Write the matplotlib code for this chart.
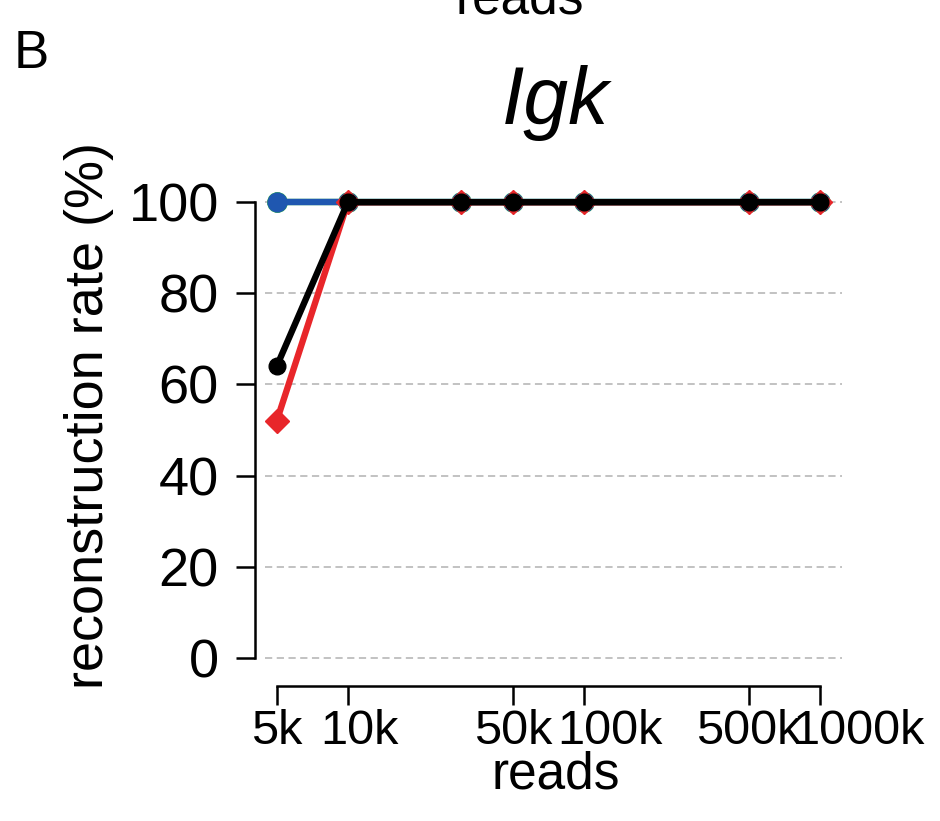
import matplotlib
matplotlib.use("Agg")
import matplotlib.pyplot as plt
from matplotlib.transforms import ScaledTranslation
import numpy as np

plt.rcParams['font.family'] = ['Liberation Sans', 'DejaVu Sans']

reads = [5000, 10000, 30000, 50000, 100000, 500000, 1000000]
tick_vals = [5000, 10000, 50000, 100000, 500000, 1000000]
tick_labels = ["5k", "10k", "50k", "100k", "500k", "1000k"]
green_vals = [100, 100, 100, 100, 100, 100, 100]
blue_vals = [100, 100, 100, 100, 100, 100, 100]
red_vals = [52, 100, 100, 100, 100, 100, 100]
black_vals = [64, 100, 100, 100, 100, 100, 100]
yticks = [0, 20, 40, 60, 80, 100]

# layout nudges (pixels) for the x tick labels, as placed in the reference
label_nudge_px = [0, 12, 0, 26, 0, 38]

W, H = 940, 821
fig = plt.figure(figsize=(W/100, H/100), dpi=100)
L, R, T, B = 255, 842, 184, 676
ax = fig.add_axes([L/W, 1 - B/H, (R-L)/W, (B-T)/H])
ax.set_xscale('log')
lx0, lx1 = np.log10(5000), np.log10(1000000)
ext = 0.04*(lx1-lx0)
ax.set_xlim(10**(lx0-ext), 10**(lx1+ext))
ax.set_ylim(-4, 104)

for yv in yticks:
    ax.plot([0.017, 1.0], [yv, yv], transform=ax.get_yaxis_transform(),
            color='#bdbdbd', lw=1.3, ls=(0, (4, 2.5)), zorder=1, clip_on=False)

ax.plot(reads, green_vals, color='#2fb24a', lw=4.6, marker='o', ms=14, zorder=2)
ax.plot(reads, blue_vals, color='#1f57b0', lw=4.6, marker='o', ms=13.5, zorder=3)
ax.plot(reads, red_vals, color='#e8262a', lw=4.6, marker='D', ms=12.5, zorder=4)
ax.plot(reads, black_vals, color='black', lw=4.6, marker='o', ms=12, zorder=5)

for s in ['top', 'right']:
    ax.spines[s].set_visible(False)
ax.spines['left'].set_bounds(0, 100)
ax.spines['bottom'].set_bounds(5000, 1000000)
ax.spines['bottom'].set_position(('outward', 7))
ax.spines['left'].set_linewidth(1.8)
ax.spines['bottom'].set_linewidth(1.8)

ax.set_xticks(tick_vals)
ax.set_xticklabels(tick_labels)
ax.xaxis.set_minor_locator(matplotlib.ticker.NullLocator())
ax.set_yticks(yticks)
ax.set_yticklabels([str(v) for v in yticks])
ax.tick_params(axis='x', labelsize=35, width=1.8, length=14, pad=3)
ax.tick_params(axis='y', labelsize=39, width=1.8, length=14, pad=12)
for lab, dx in zip(ax.get_xticklabels(), label_nudge_px):
    lab.set_transform(lab.get_transform() + ScaledTranslation(dx/100, 0, fig.dpi_scale_trans))

ax.set_xlabel("reads", fontsize=37)
ax.xaxis.set_label_coords(0.512, -0.152)
ax.set_ylabel("reconstruction rate (%)", fontsize=39)
ax.yaxis.set_label_coords(-0.24, 0.53)
ax.set_title("Igk", fontsize=58, style='italic', pad=0, va='baseline',
             x=0.512, y=(676-124)/(676-184))

fig.text(14/W, 1 - 68/H, "B", fontsize=38, va='baseline', ha='left')
fig.text(520/W, 1 - 14/H, "reads", fontsize=37, va='baseline', ha='center')

fig.savefig("out.png", dpi=100)
